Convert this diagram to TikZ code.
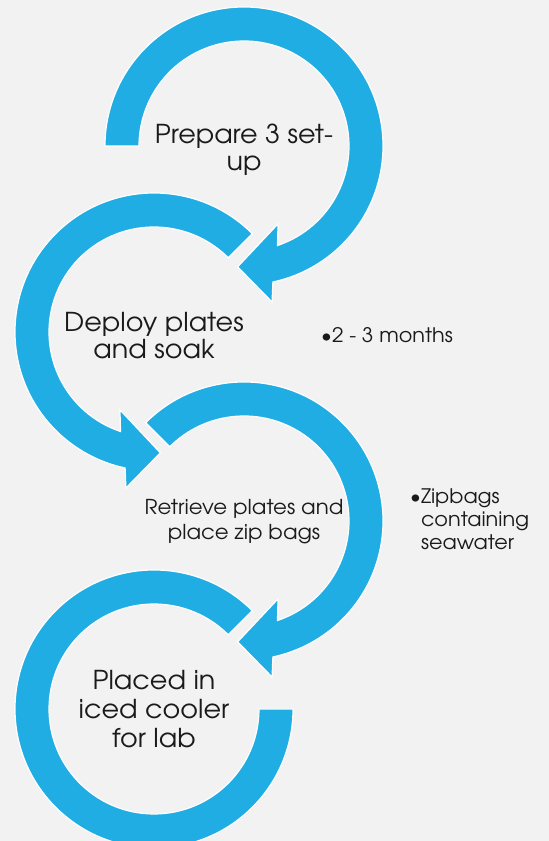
\documentclass[tikz,border=0pt]{standalone}
\usepackage{fontspec}
\setmainfont[FakeStretch=1.04]{TeX Gyre Adventor}
\definecolor{bg}{HTML}{F2F2F2}
\definecolor{arrowblue}{HTML}{1FADE4}
\definecolor{txt}{HTML}{1A1A1A}
\begin{document}
\begin{tikzpicture}[x=1pt,y=1pt,
  ring/.style={fill=arrowblue, draw=white, line width=1.2pt, line join=miter},
  steptext/.style={align=center, text=txt, inner sep=0pt},
  notetext/.style={align=left, text=txt, inner sep=0pt, font=\fontsize{20}{23}\selectfont}]
\useasboundingbox (0,0) rectangle (549,841);
\clip (0,0) rectangle (549,841);
\fill[bg] (0,0) rectangle (549,841);
\coordinate (c1) at (244,695);
\coordinate (c2) at (154,509);
\coordinate (c3) at (244,320);
\coordinate (c4) at (154,132);
% ring 1
\path[ring] ([shift={(180:139pt)}]c1) arc[start angle=180, end angle=-78, radius=139pt]
  -- ([shift={(-79.8:158.5pt)}]c1) -- ([shift={(-93:121pt)}]c1) -- ([shift={(-66.4:85pt)}]c1)
  -- ([shift={(-71.4:105pt)}]c1) arc[start angle=-71.4, end angle=180, radius=105pt] -- cycle;
% ring 2
\path[ring] ([shift={(45:139pt)}]c2) arc[start angle=45, end angle=258, radius=139pt]
  -- ([shift={(259.8:158.5pt)}]c2) -- ([shift={(273:121pt)}]c2) -- ([shift={(246.4:85pt)}]c2)
  -- ([shift={(251.4:105pt)}]c2) arc[start angle=251.4, end angle=45, radius=105pt] -- cycle;
% ring 3
\path[ring] ([shift={(135:139pt)}]c3) arc[start angle=135, end angle=-78, radius=139pt]
  -- ([shift={(-79.8:158.5pt)}]c3) -- ([shift={(-93:121pt)}]c3) -- ([shift={(-66.4:85pt)}]c3)
  -- ([shift={(-71.4:105pt)}]c3) arc[start angle=-71.4, end angle=135, radius=105pt] -- cycle;
% ring 4
\path[ring] ([shift={(45:139pt)}]c4) arc[start angle=45, end angle=360, radius=139pt]
  -- ([shift={(0:105pt)}]c4) arc[start angle=360, end angle=45, radius=105pt] -- cycle;
% texts
\node[steptext, font=\fontsize{26}{27}\selectfont] (t1) at (244,691) {Prepare 3 set-\\up};
\node[steptext, font=\fontsize{26}{27}\selectfont] (t2) at (154,505) {Deploy plates\\and soak};
\node[steptext, font=\fontsize{20.5}{25}\selectfont] (t3) at (244,319) {Retrieve plates and\\place zip bags};
\node[steptext, font=\fontsize{26}{29}\selectfont] (t4) at (154,132) {Placed in\\iced cooler\\for lab};
\node[notetext, anchor=west] (n1) at (321,506) {•2 - 3 months};
\node[notetext, anchor=west] (n2) at (410,319) {\begin{tabular}{@{}l@{}l@{}}•&Zipbags\\&containing\\&seawater\end{tabular}};
\end{tikzpicture}
\end{document}
